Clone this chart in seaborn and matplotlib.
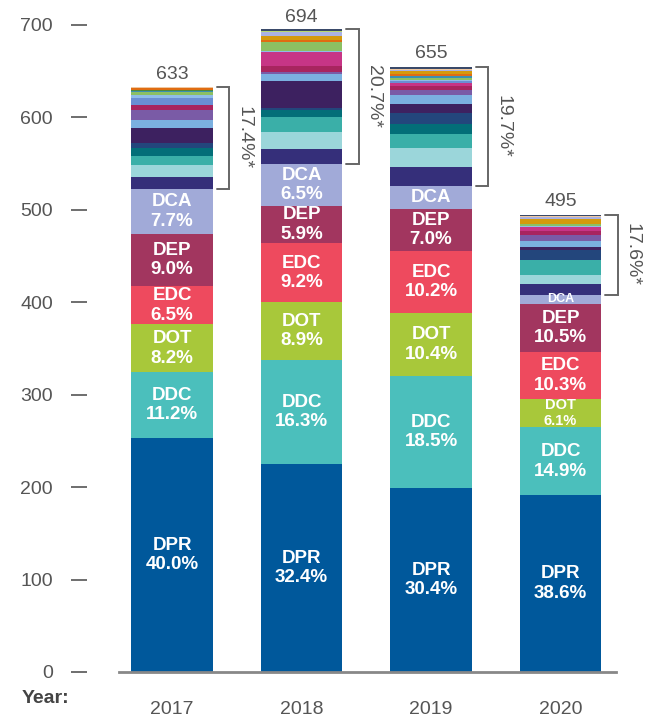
import matplotlib
matplotlib.use("Agg")
import matplotlib.pyplot as plt
import pandas as pd
import seaborn as sns


sns.set_theme(style="white")
plt.rcParams["font.family"] = ["Liberation Sans", "DejaVu Sans"]

years = ["2017", "2018", "2019", "2020"]
totals = [633, 694, 655, 495]

# main programmes (values in the same units as the y axis)
main_names = ["DPR", "DDC", "DOT", "EDC", "DEP", "DCA"]
main_pct = {
    "DPR": [40.0, 32.4, 30.4, 38.6],
    "DDC": [11.2, 16.3, 18.5, 14.9],
    "DOT": [8.2, 8.9, 10.4, 6.1],
    "EDC": [6.5, 9.2, 10.2, 10.3],
    "DEP": [9.0, 5.9, 7.0, 10.5],
    "DCA": [7.7, 6.5, 3.8, 2.0],
}
main_values = {
    "DPR": [253.2, 224.9, 199.1, 191.1],
    "DDC": [70.9, 113.1, 121.2, 73.8],
    "DOT": [51.9, 61.8, 68.1, 30.2],
    "EDC": [41.1, 63.8, 66.8, 51.0],
    "DEP": [57.0, 40.9, 45.9, 52.0],
    "DCA": [48.7, 45.1, 24.9, 9.9],
}
other_share = ["17.4%*", "20.7%*", "19.7%*", "17.6%*"]

# the many small programmes stacked above DCA
other_values = {
    "navy":       [13.0, 16.6, 20.6, 11.9],
    "lightcyan":  [13.0, 18.4, 20.6, 9.7],
    "teal":       [9.7, 16.2, 15.2, 15.8],
    "darkteal":   [8.7, 7.2, 10.8, 0.0],
    "darkblue":   [5.4, 2.5, 11.9, 10.8],
    "darkpurple": [16.2, 29.2, 9.7, 3.7],
    "lightblue":  [8.7, 6.8, 9.7, 6.5],
    "purple":     [10.8, 2.9, 4.7, 6.5],
    "crimson":    [5.4, 6.1, 4.3, 4.3],
    "magenta":    [0.0, 15.2, 3.7, 4.3],
    "cornflower": [7.6, 0.0, 1.7, 0.0],
    "skyblue":    [3.2, 1.4, 1.5, 1.1],
    "green":      [2.5, 9.7, 1.7, 2.2],
    "tealblue":   [1.5, 0.0, 3.2, 0.0],
    "olive":      [1.4, 0.0, 0.0, 0.0],
    "orange":     [1.4, 1.8, 1.8, 0.0],
    "gold":       [0.0, 4.3, 3.2, 5.4],
    "lavender":   [0.0, 4.7, 1.1, 1.7],
    "lime":       [0.0, 1.1, 0.0, 0.0],
    "peach":      [1.5, 0.0, 1.1, 1.1],
    "slate":      [0.0, 1.4, 1.8, 1.5],
}

colors = {
    "DPR": "#00589b", "DDC": "#4bbfbc", "DOT": "#a8c83a", "EDC": "#ee4a5e",
    "DEP": "#a2365f", "DCA": "#a1aad8",
    "navy": "#352f7a", "lightcyan": "#9bd6da", "teal": "#3aafa8",
    "darkteal": "#036e78", "darkblue": "#23467c", "darkpurple": "#3d2160",
    "lightblue": "#7bb0e0", "purple": "#7a5ba6", "crimson": "#a8255f",
    "magenta": "#c73586", "cornflower": "#6a8fd4", "skyblue": "#8fbde8",
    "green": "#8cc063", "tealblue": "#3a90b0", "olive": "#4e8a3a",
    "orange": "#e06c12", "gold": "#d49a0c", "lavender": "#aab2e2",
    "lime": "#b8d870", "peach": "#f0c8a0", "slate": "#3a4a6a",
}

layers = main_names + list(other_values.keys())
values = {**main_values, **other_values}

rows = []
for i, y in enumerate(years):
    running = 0.0
    for name in layers:
        bottom = running
        running += values[name][i]
        rows.append({"year": y, "layer": name, "bottom": bottom, "top": running})
df = pd.DataFrame(rows)

fig = plt.figure(figsize=(6.5, 7.19), dpi=100)
ax = fig.add_axes([0.183, 0.0654, 0.765, 0.9256])

bar_w = 0.627
for name in reversed(layers):
    d = df[df["layer"] == name]
    sns.barplot(data=d, x="year", y="top", order=years, color=colors[name],
                saturation=1, width=bar_w, linewidth=0, ax=ax)

gray = "#555555"

# labels inside main segments
for name in main_names:
    d = df[df["layer"] == name].reset_index(drop=True)
    for i in range(len(years)):
        mid = (d.loc[i, "bottom"] + d.loc[i, "top"]) / 2
        size = 13.5
        if name == "DOT" and i == 3:
            size = 10.5
        if name == "DCA" and i >= 2:
            size = 13.5 if i == 2 else 9
            ax.text(i, mid, name, ha="center", va="center", color="white",
                    fontsize=size, fontweight="bold")
            continue
        ax.text(i, mid, f"{name}\n{main_pct[name][i]:.1f}%", ha="center",
                va="center", color="white", fontsize=size, fontweight="bold",
                linespacing=1.2)

# totals, brackets for the small programmes
dca = df[df["layer"] == "DCA"].reset_index(drop=True)
for i, t in enumerate(totals):
    ax.annotate(str(t), (i, t), xytext=(0, 3), textcoords="offset points",
                ha="center", va="bottom", color=gray, fontsize=14)
    lo = dca.loc[i, "top"]
    hi = df[df["year"] == years[i]]["top"].max()
    x0 = i + bar_w / 2 + 0.03
    x1 = i + bar_w / 2 + 0.13
    ax.plot([x0, x1, x1, x0], [hi, hi, lo, lo], color="#666666", lw=1.4,
            solid_joinstyle="miter", clip_on=False)
    ax.text(i + bar_w / 2 + 0.24, (hi + lo) / 2, other_share[i], rotation=270,
            ha="center", va="center", color=gray, fontsize=14)

ax.set_xlim(-0.41, 3.43)
ax.set_ylim(0, 720)
ax.set_yticks(range(0, 701, 100))
ax.set_xlabel("")
ax.set_ylabel("")

for s in ["top", "right"]:
    ax.spines[s].set_visible(False)
ax.spines["left"].set_position(("outward", 23))
ax.spines["left"].set_visible(False)
ax.spines["bottom"].set_color("#888888")
ax.spines["bottom"].set_linewidth(2)

ax.tick_params(axis="y", left=True, length=11.5, width=1.2, color=gray,
               direction="out", pad=13, labelsize=14, labelcolor=gray)
ax.tick_params(axis="x", length=0, pad=21, labelsize=14, labelcolor=gray)

fig.text(0.07, 0.0165, "Year:", ha="center", va="bottom", color="#444444",
         fontsize=14, fontweight="bold")

fig.savefig("out.png", dpi=100)
plt.close(fig)
